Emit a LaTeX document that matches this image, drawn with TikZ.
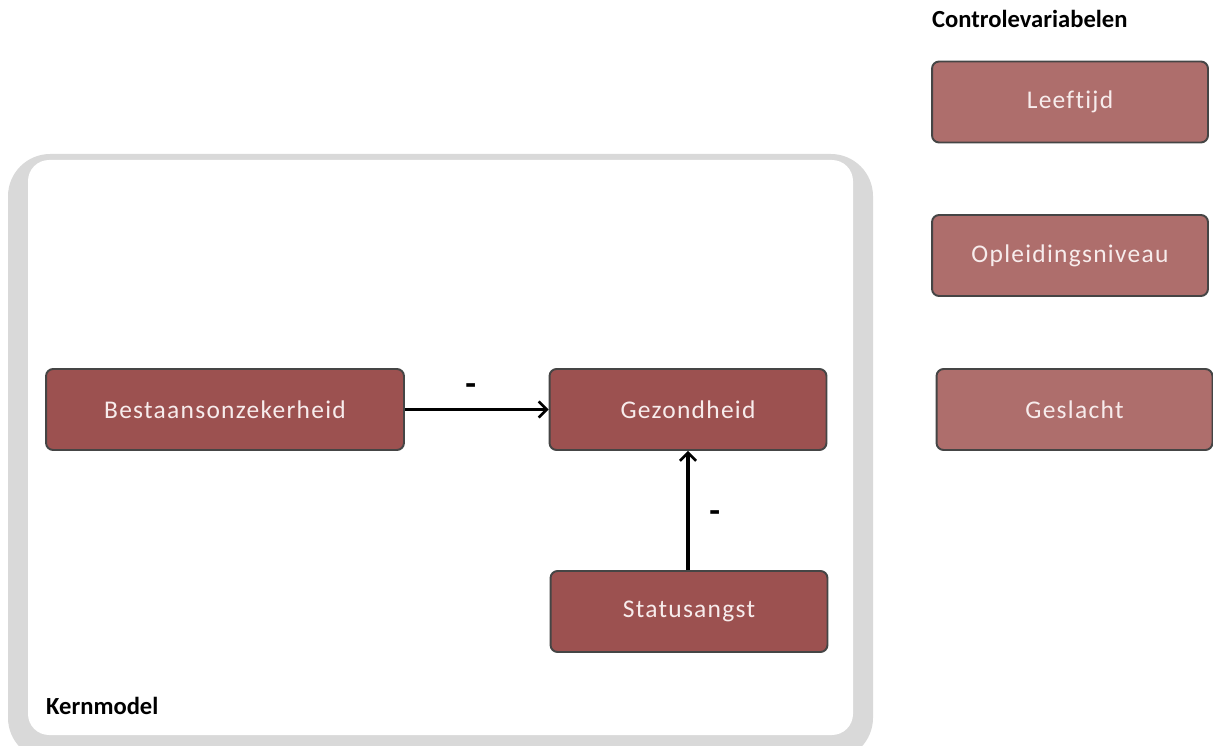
\documentclass[tikz,border=0pt]{standalone}
\usepackage{fontspec}
\setmainfont{Carlito}
\newfontfamily\boxfont[LetterSpace=5,Ligatures=NoCommon]{Carlito}
\usetikzlibrary{arrows.meta,positioning}

\definecolor{coreRed}{HTML}{9C5150}
\definecolor{ctrlRed}{HTML}{AE6E6C}
\definecolor{boxLine}{HTML}{454545}
\definecolor{frameGrey}{HTML}{D9D9D9}
\definecolor{boxText}{HTML}{F7ECEC}

\begin{document}
\begin{tikzpicture}[
  x=0.02cm, y=-0.02cm,
  font=\fontsize{13}{15}\selectfont,
  core/.style={draw=boxLine, line width=1.1pt, rounded corners=4pt, fill=coreRed,
               minimum height=1.62cm, text=boxText, font=\boxfont\fontsize{14.5}{16}\selectfont},
  ctrl/.style={core, fill=ctrlRed, minimum width=5.52cm},
  link/.style={draw=black, line width=1.8pt, -{Straight Barb[length=1.6mm,width=3.2mm,line width=1.5pt]}},
  sign/.style={font=\bfseries\fontsize{20}{20}\selectfont},
  tag/.style={font=\bfseries\fontsize{14}{16}\selectfont, anchor=west}
]
\useasboundingbox (0,0) rectangle (1213,746);
% grey frame round the core model
\fill[frameGrey, rounded corners=24pt] (8,154) rectangle (873,760);
\fill[white, rounded corners=12pt] (28,160) rectangle (853,735);
\node[tag] (kern) at (40,706) {Kernmodel};
\node[tag] (ctrlTitle) at (926,19) {Controlevariabelen};
% core model
\node[core, minimum width=7.16cm] (bestaan) at (225,409.5) {Bestaansonzekerheid};
\node[core, minimum width=5.54cm] (gezond) at (688,409.5) {Gezondheid};
\node[core, minimum width=5.54cm] (status) at (689,611.5) {Statusangst};
% control variables
\node[ctrl] (leeftijd) at (1070,102) {Leeftijd};
\node[ctrl] (opleiding) at (1070,255.5) {Opleidingsniveau};
\node[ctrl] (geslacht) at (1074.5,409.5) {Geslacht};
% effects
\draw[link] (bestaan) -- node[sign, midway, above=0.13cm, xshift=-0.12cm] {-} (gezond);
\draw[link] (status.north -| gezond.south) -- node[sign, midway, right=0.28cm, yshift=-0.12cm] {-} (gezond.south);
\end{tikzpicture}
\end{document}
